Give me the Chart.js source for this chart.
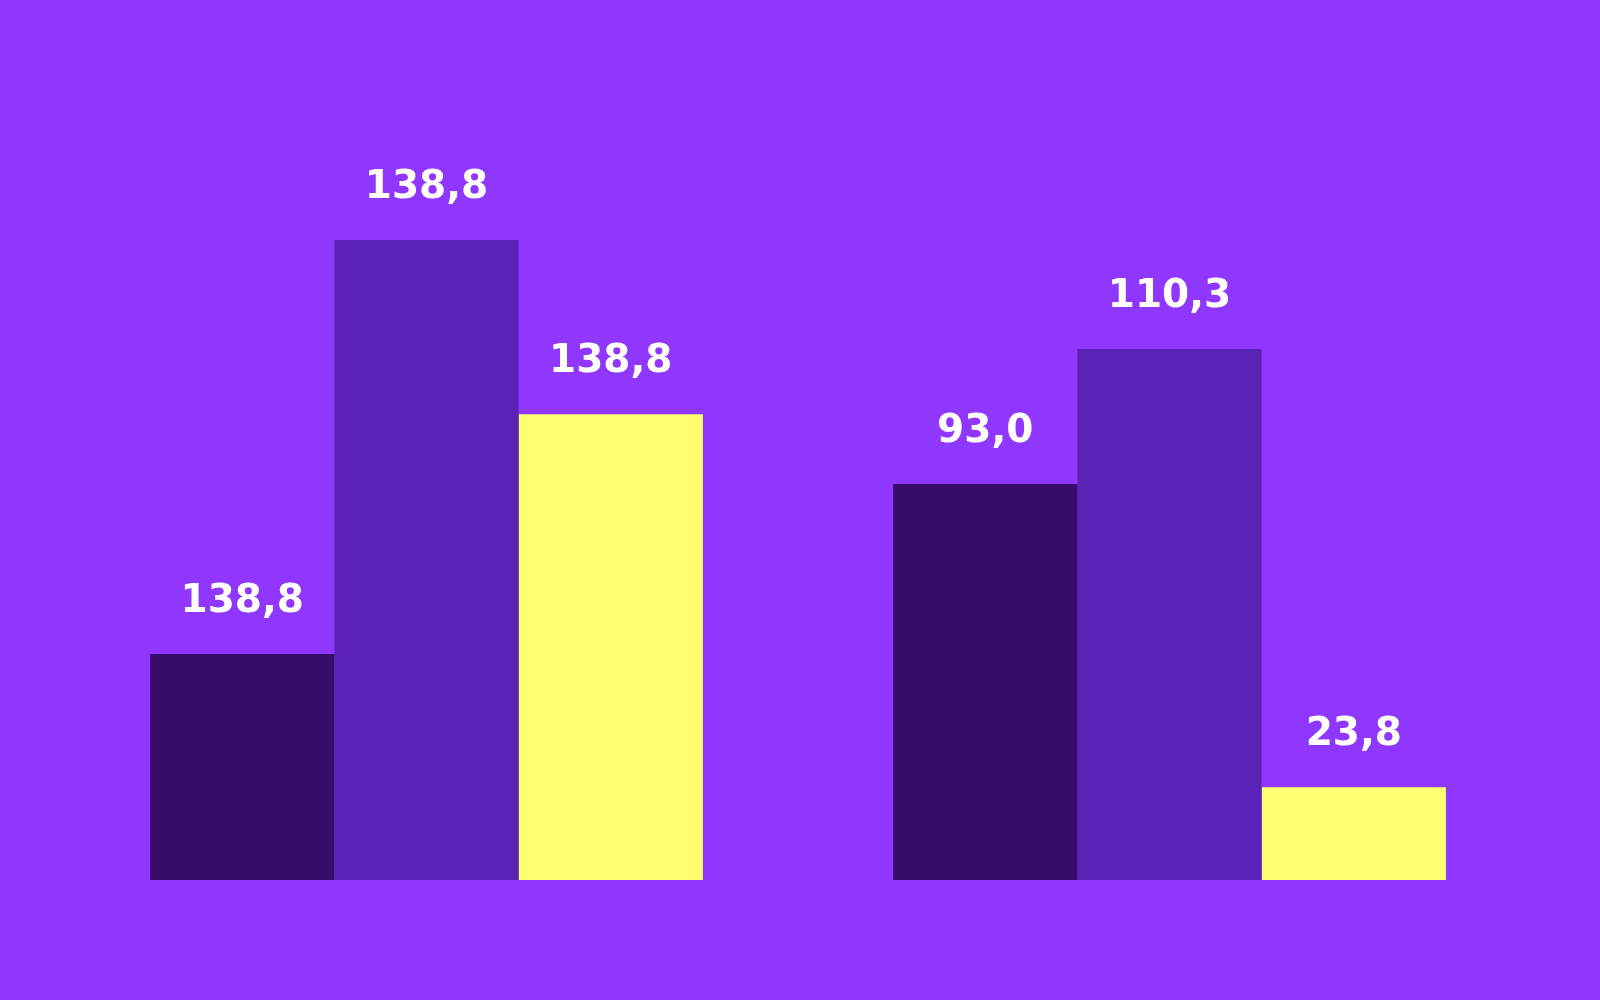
<!DOCTYPE html>
<html>
<head>
<meta charset="utf-8">
<script src="https://cdn.jsdelivr.net/npm/chart.js@4"></script>
<style>
  html, body { margin: 0; padding: 0; background: #8f37ff; }
  #wrap { width: 1600px; height: 1000px; }
</style>
</head>
<body>
<div id="wrap"><canvas id="chart" width="1600" height="1000"></canvas></div>
<script>
// categories (two groups, no visible axis labels)
const categories = ['A', 'B'];

// bar heights
const seriesDark = [53.1, 93.0];
const seriesMid = [150.3, 124.7];
const seriesYellow = [109.4, 21.8];

// labels as printed above each bar
const labelsDark = ['138,8', '93,0'];
const labelsMid = ['138,8', '110,3'];
const labelsYellow = ['138,8', '23,8'];

// draws the text label above each bar
const barLabels = {
  id: 'barLabels',
  afterDatasetsDraw(chart) {
    const ctx = chart.ctx;
    ctx.save();
    ctx.fillStyle = '#ffffff';
    ctx.font = 'bold 39px "DejaVu Sans"';
    ctx.textAlign = 'center';
    ctx.textBaseline = 'alphabetic';
    chart.data.datasets.forEach((ds, i) => {
      chart.getDatasetMeta(i).data.forEach((bar, j) => {
        ctx.fillText(ds.valueLabels[j], bar.x, bar.y - 42);
      });
    });
    ctx.restore();
  }
};

const data = {
  labels: categories,
  datasets: [
    { data: seriesDark, valueLabels: labelsDark, backgroundColor: '#380c6b' },
    { data: seriesMid, valueLabels: labelsMid, backgroundColor: '#5a23b5' },
    { data: seriesYellow, valueLabels: labelsYellow, backgroundColor: '#ffff6f' }
  ]
};

const config = {
  type: 'bar',
  data: data,
  options: {
    responsive: false,
    animation: false,
    devicePixelRatio: 1,
    layout: {
      padding: { left: 55, right: 59, top: 0, bottom: 120 }
    },
    datasets: {
      bar: {
        categoryPercentage: 0.744,
        barPercentage: 1.0,
        borderWidth: 0
      }
    },
    plugins: {
      legend: { display: false },
      tooltip: { enabled: false }
    },
    scales: {
      x: { display: false },
      y: { display: false, min: 0, max: 206.7 }
    }
  },
  plugins: [barLabels]
};

const ctx = document.getElementById('chart').getContext('2d');
new Chart(ctx, config);
</script>
</body>
</html>
